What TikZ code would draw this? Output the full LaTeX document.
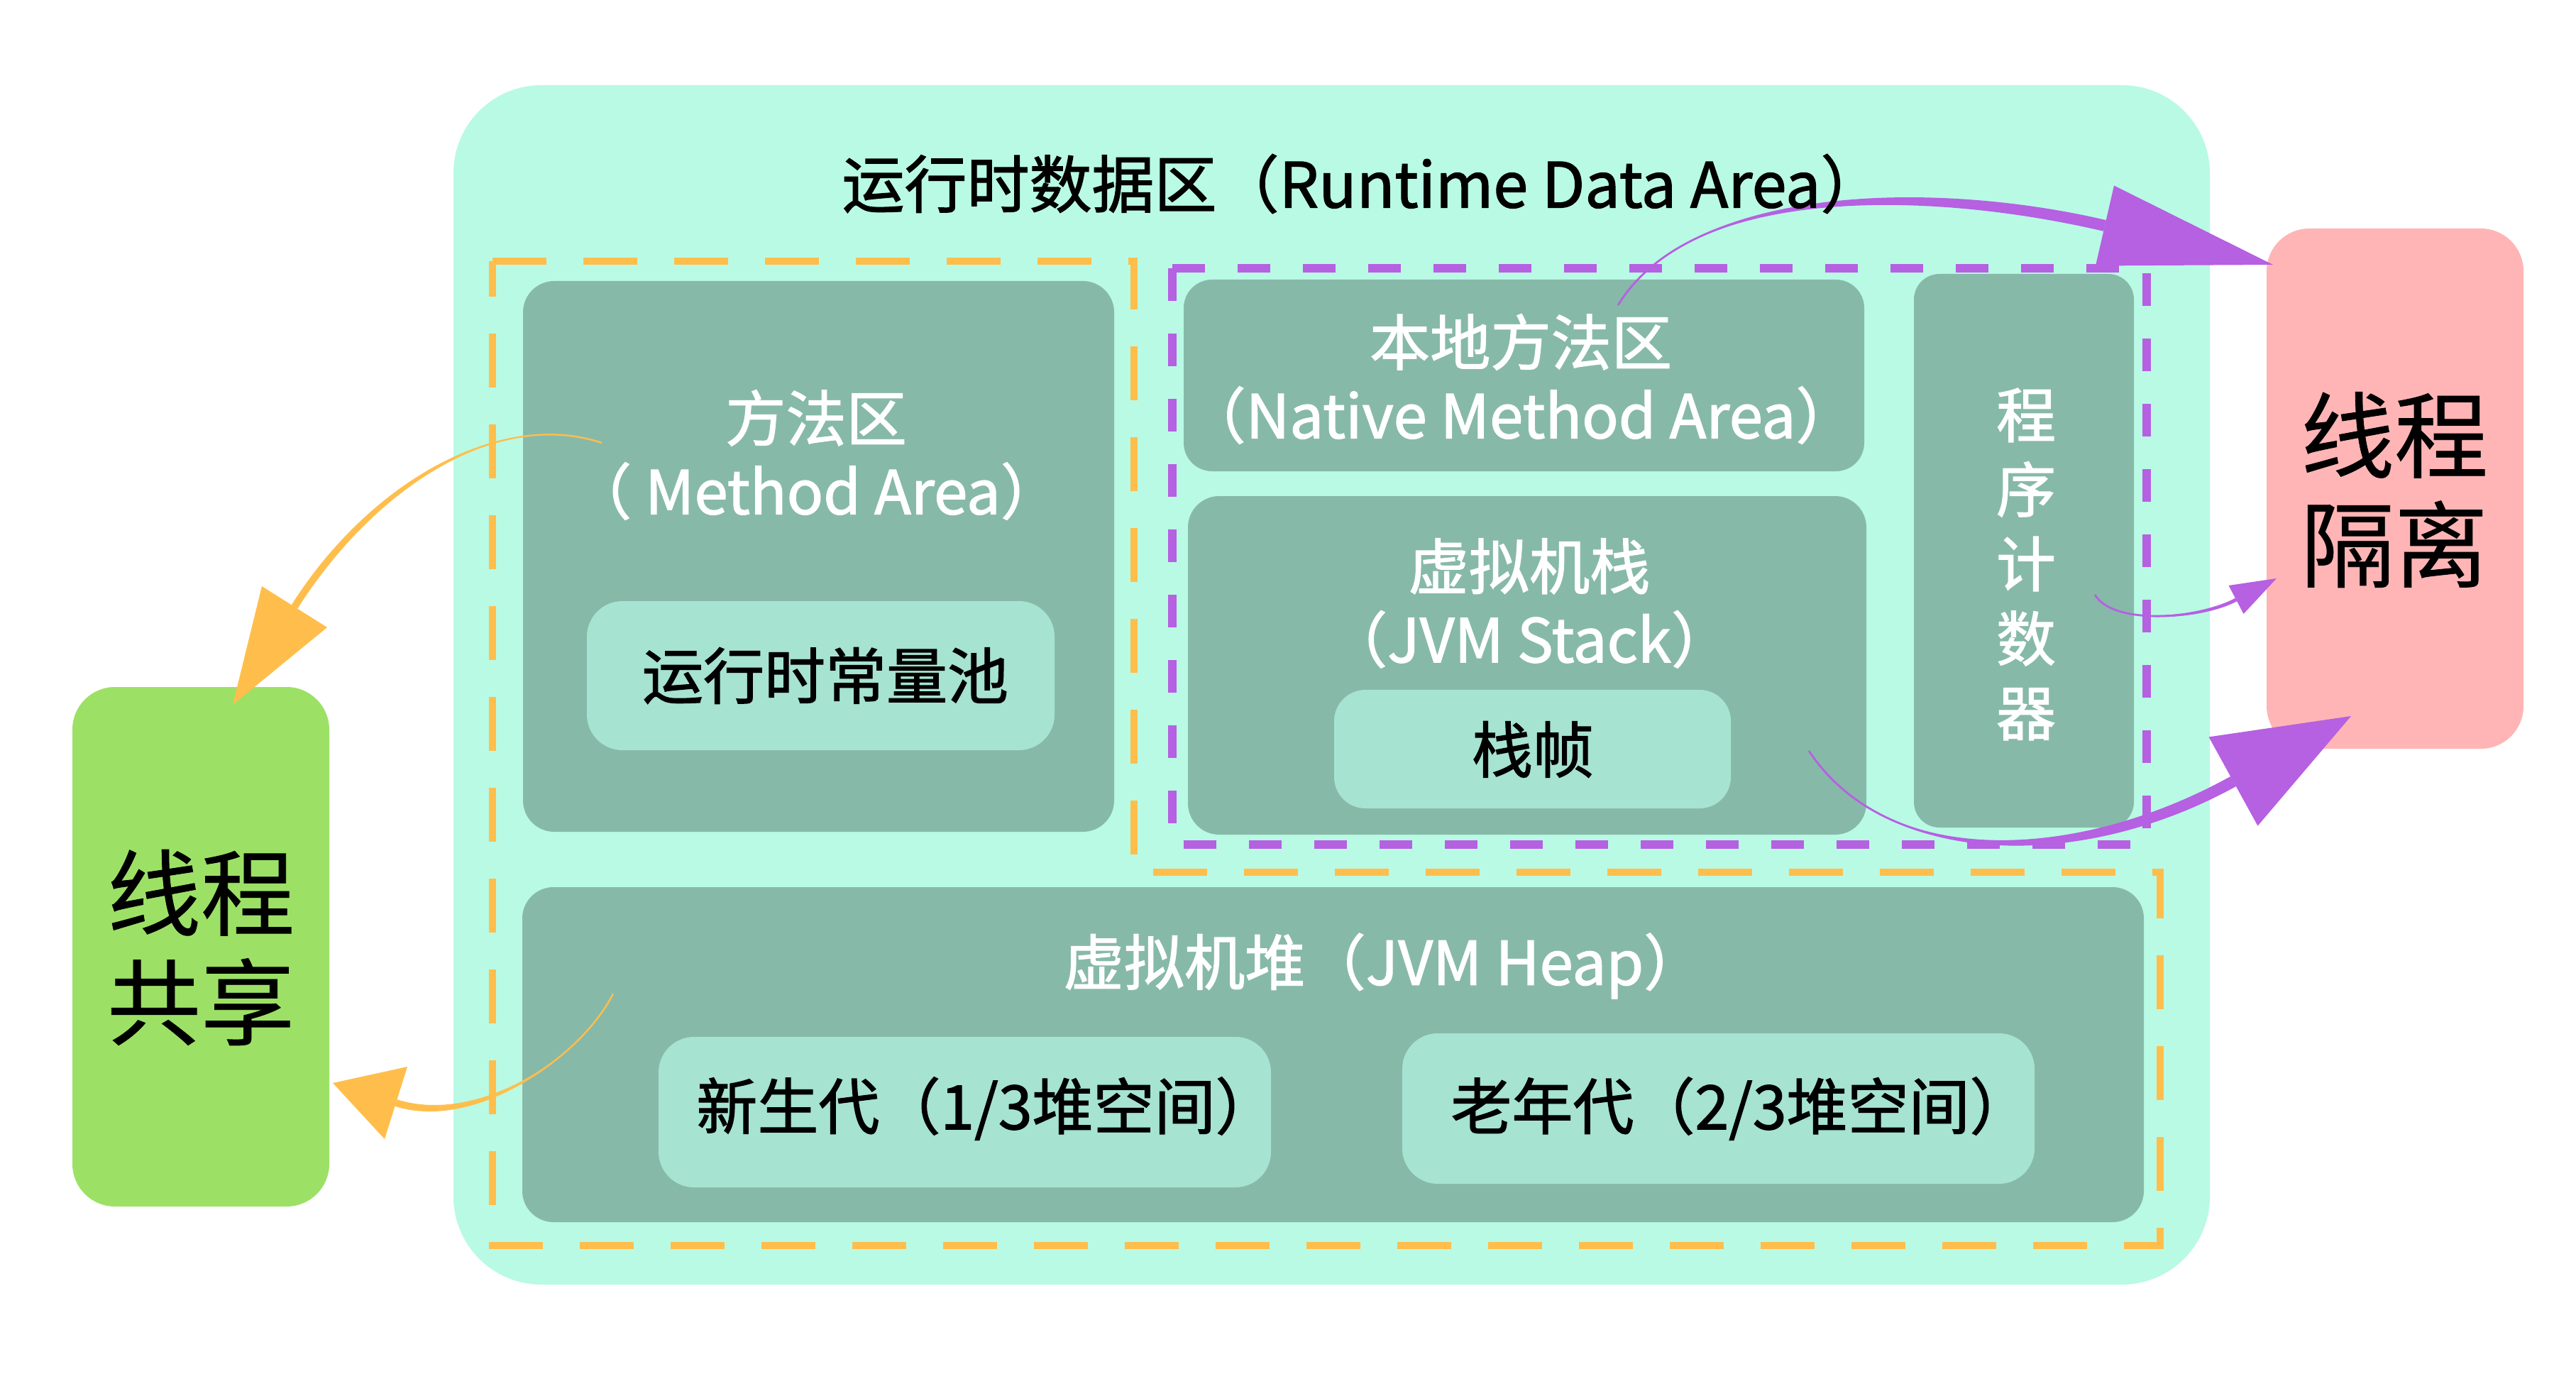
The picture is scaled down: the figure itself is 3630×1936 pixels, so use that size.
\documentclass[tikz,border=0pt]{standalone}
\usepackage{fontspec}
\setmainfont{Noto Sans CJK SC}[FakeBold=1.5]
\newfontfamily\plaincjk{Noto Sans CJK SC}[FakeBold=0.6]
\usetikzlibrary{calc}
\definecolor{mint}{RGB}{185,250,229}
\definecolor{darkbox}{RGB}{135,185,169}
\definecolor{lightbox}{RGB}{166,227,209}
\definecolor{orangec}{RGB}{255,190,76}
\definecolor{purplec}{RGB}{182,96,226}
\definecolor{pinkc}{RGB}{255,181,181}
\definecolor{greenc}{RGB}{156,225,102}
\begin{document}
\begin{tikzpicture}[x=0.25pt,y=-0.25pt,
  panel/.style={inner sep=0pt, draw=none},
  darkpanel/.style={panel, fill=darkbox, rounded corners=11pt},
  lightpanel/.style={panel, fill=lightbox, rounded corners=12.5pt},
  wlabel/.style={text=white, align=center, inner sep=0pt, font=\fontsize{21.3pt}{25.75pt}\selectfont},
  blabel/.style={text=black, align=center, inner sep=0pt, font=\fontsize{21.5pt}{25.75pt}\selectfont},
  biglabel/.style={text=black, align=center, inner sep=0pt, font=\plaincjk\fontsize{33pt}{38.5pt}\selectfont},
  orangedash/.style={draw=orangec, line width=2.5pt, dash pattern=on 19pt off 13pt},
  purpledash/.style={draw=purplec, line width=3pt, dash pattern=on 11.5pt off 11.5pt},
  thinorange/.style={draw=orangec, line width=0.6pt},
  thinpurple/.style={draw=purplec, line width=0.7pt}]
\useasboundingbox (0,0) rectangle (3630,1936);
\fill[white] (0,0) rectangle (3630,1936);

% runtime data area
\node[panel, fill=mint, rounded corners=31pt, minimum width=618.75pt, minimum height=422.5pt] (rda) at (1876.5,965) {};

% dark panels
\node[darkpanel, minimum width=208.25pt, minimum height=194pt] (method) at (1153.5,784) {};
\node[darkpanel, rounded corners=10pt, minimum width=239.75pt, minimum height=67.5pt] (native) at (2147.5,529) {};
\node[darkpanel, minimum width=239pt, minimum height=119.25pt] (stack) at (2152,937.5) {};
\node[darkpanel, rounded corners=9pt, minimum width=77.5pt, minimum height=195pt] (pc) at (2852,776) {};
\node[darkpanel, minimum width=571.25pt, minimum height=118pt] (heap) at (1878.5,1486) {};

% light panels
\node[lightpanel, minimum width=164.75pt, minimum height=52.5pt] (pool) at (1156.5,952) {};
\node[lightpanel, rounded corners=11pt, minimum width=139.75pt, minimum height=41.75pt] (frame) at (2159.5,1055.5) {};
\node[lightpanel, minimum width=215.75pt, minimum height=53pt] (young) at (1359.5,1567) {};
\node[lightpanel, minimum width=222.75pt, minimum height=53pt] (old) at (2421.5,1562) {};

% side boxes
\node[panel, fill=pinkc, rounded corners=15pt, minimum width=90.5pt, minimum height=183.25pt] (isolated) at (3375,688.5) {};
\node[panel, fill=greenc, rounded corners=15pt, minimum width=90.5pt, minimum height=183pt] (shared) at (283,1334) {};

% dashed groupings
\draw[orangedash] (694,368) -- (1598,368) -- (1598,1229) -- (3044,1229) -- (3044,1755) -- (694,1755) -- cycle;
\draw[purpledash] (1652,378) rectangle (3025,1190);

% arrow anchor coordinates
\coordinate (o1s) at (848,624);
\coordinate (o1e) at (415,855);
\coordinate (o1t) at (328,993);
\coordinate (o2s) at (864,1400);
\coordinate (o2e) at (558,1554);
\coordinate (o2t) at (469,1526);
\coordinate (p1s) at (2280,430);
\coordinate (p1e) at (2966,318);
\coordinate (p1t) at (3203,373);
\coordinate (p2s) at (2952,838);
\coordinate (p2e) at (3151,845);
\coordinate (p2t) at (3208,815);
\coordinate (p3s) at (2549,1058);
\coordinate (p3e) at (3147,1101);
\coordinate (p3t) at (3313,1009);

% orange arrows (to shared)
\draw[thinorange] (o1s) .. controls (700,575) and (522,686) .. (o1e);
\fill[orangec] (o1s) .. controls (700,575) and (526.2,688.7) .. (419.2,857.7) -- (410.8,852.3) .. controls (517.8,683.3) and (700,575) .. (o1s) -- cycle;
\fill[orangec] (o1t) -- (461,884) -- (369,826) -- cycle;
\draw[thinorange] (o2s) .. controls (819,1490) and (672,1590) .. (o2e);
\fill[orangec] (o2s) .. controls (819,1490) and (673.5,1585.2) .. (559.5,1549.2) -- (556.5,1558.8) .. controls (670.5,1594.8) and (819,1490) .. (o2s) -- cycle;
\fill[orangec] (o2t) -- (574,1503) -- (542,1605) -- cycle;

% purple arrows (to isolated)
\draw[thinpurple] (p1s) .. controls (2384,260) and (2722,261) .. (p1e);
\fill[purplec] (p1s) .. controls (2384,260) and (2720.2,268.8) .. (2964.2,325.8) -- (2967.8,310.2) .. controls (2723.8,253.2) and (2384,260) .. (p1s) -- cycle;
\fill[purplec] (p1t) -- (2953,374.5) -- (2979,261.5) -- cycle;
\draw[thinpurple] (p2s) .. controls (2977,881) and (3098,873) .. (p2e);
\fill[purplec] (p2s) .. controls (2977,881) and (3099.2,875.2) .. (3152.2,847.2) -- (3149.8,842.8) .. controls (3096.8,870.8) and (2977,881) .. (p2s) -- cycle;
\fill[purplec] (p2t) -- (3161.5,865) -- (3140.5,825) -- cycle;
\draw[thinpurple] (p3s) .. controls (2659,1224) and (2928,1222) .. (p3e);
\fill[purplec] (p3s) .. controls (2659,1224) and (2931.9,1229) .. (3150.9,1108) -- (3143.1,1094) .. controls (2924.1,1215) and (2659,1224) .. (p3s) -- cycle;
\fill[purplec] (p3t) -- (3181.5,1163.6) -- (3112.5,1038.4) -- cycle;

% labels
\node[blabel, font=\fontsize{22pt}{26pt}\selectfont] (title) at (1920,259) {运行时数据区（Runtime Data Area）};
\node[wlabel] (methodlabel) at (1150,641) {方法区\\（ Method Area）};
\node[blabel] (poollabel) at (1163,952) {运行时常量池};
\node[wlabel] (nativelabel) at (2143,534) {本地方法区\\（Native Method Area）};
\node[wlabel] (stacklabel) at (2155,850) {虚拟机栈\\（JVM Stack）};
\node[blabel] (framelabel) at (2160,1056) {栈帧};
\node[wlabel, font=\fontsize{21pt}{26.25pt}\selectfont] (pclabel) at (2855,795) {程\\序\\计\\数\\器};
\node[wlabel] (heaplabel) at (1950,1361) {虚拟机堆（JVM Heap）};
\node[blabel] (younglabel) at (1390,1562) {新生代（1/3堆空间）};
\node[blabel] (oldlabel) at (2453,1562) {老年代（2/3堆空间）};
\node[biglabel] (isolatedlabel) at (3374,690) {线程\\隔离};
\node[biglabel] (sharedlabel) at (283,1335) {线程\\共享};
\end{tikzpicture}
\end{document}
